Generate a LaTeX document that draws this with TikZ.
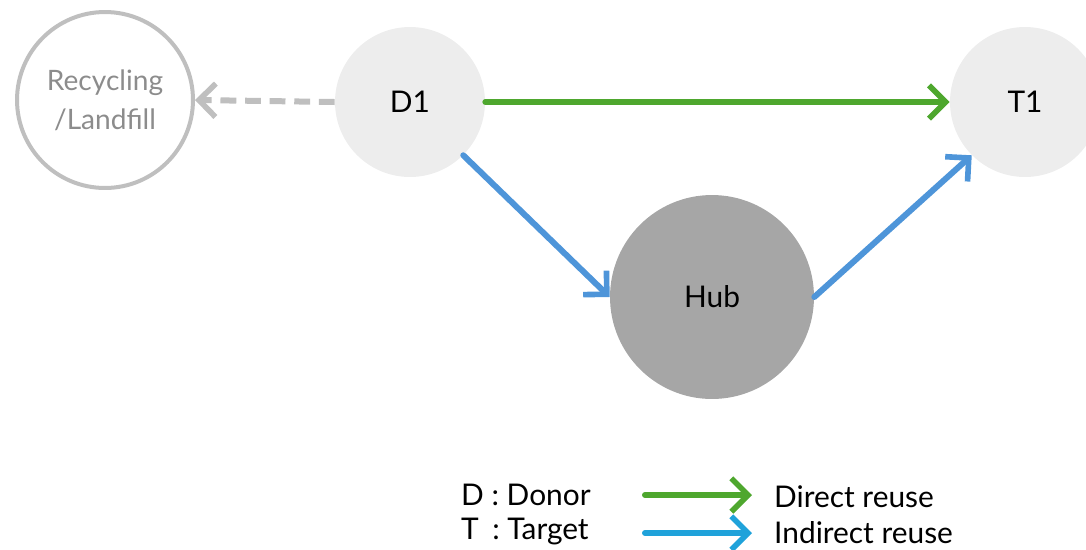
\documentclass[tikz,border=0pt]{standalone}
\usepackage{fontspec}
\setmainfont{Lato}
\usetikzlibrary{arrows.meta}
\definecolor{recgray}{HTML}{BFBFBF}
\definecolor{rectext}{HTML}{8C8C8C}
\definecolor{nodefill}{HTML}{EDEDED}
\definecolor{hubfill}{HTML}{A6A6A6}
\definecolor{directgreen}{HTML}{4EA72E}
\definecolor{indirectblue}{HTML}{4E95D9}
\definecolor{legendblue}{HTML}{1FA2DA}
\tikzset{
  site/.style={circle, fill=nodefill, minimum size=3cm, inner sep=0pt, font=\fontsize{17}{20}\selectfont},
  flow/.style={line width=0.12cm, line cap=round, -{Straight Barb[length=9.5pt, width=19pt, line width=3.2pt]}},
}
\begin{document}
\begin{tikzpicture}[x=0.02cm, y=-0.02cm]
    \useasboundingbox (0,0) rectangle (1086,549);
    \node[circle, draw=recgray, line width=0.08cm, minimum size=3.52cm, inner sep=0pt, align=center, text=rectext, font=\fontsize{16}{22}\selectfont] (rec) at (105,100) {Recycling\\/Landfill};
    \node[site] (d1) at (410,102) {D1};
    \node[site] (t1) at (1025,102) {T1};
    \node[circle, fill=hubfill, minimum size=4.08cm, inner sep=0pt, font=\fontsize{17}{20}\selectfont] (hub) at (712,297) {Hub};
    \draw[flow, recgray, dash pattern=on 9pt off 5pt, line cap=butt] (d1.west) -- (rec.east);
    \draw[flow, directgreen] (d1.east) -- (t1.west);
    \draw[flow, indirectblue] (d1.-45) -- (hub.west);
    \draw[flow, indirectblue] (hub.east) -- (t1.-135);
    % legend
    \node[anchor=west, font=\fontsize{17}{20}\selectfont] (keyd) at (455,495) {D : Donor};
    \node[anchor=west, font=\fontsize{17}{20}\selectfont] (keyt) at (455,532) {T\hspace{0.45em}: Target};
    \coordinate (gs) at (645,495);
    \coordinate (ge) at (752,495);
    \coordinate (bs) at (645,533);
    \coordinate (be) at (752,533);
    \draw[flow, directgreen] (gs) -- (ge);
    \draw[flow, legendblue] (bs) -- (be);
    \node[anchor=west, font=\fontsize{17}{20}\selectfont] (keydir) at (768,497) {Direct reuse};
    \node[anchor=west, font=\fontsize{17}{20}\selectfont] (keyind) at (768,533) {Indirect reuse};
\end{tikzpicture}
\end{document}
